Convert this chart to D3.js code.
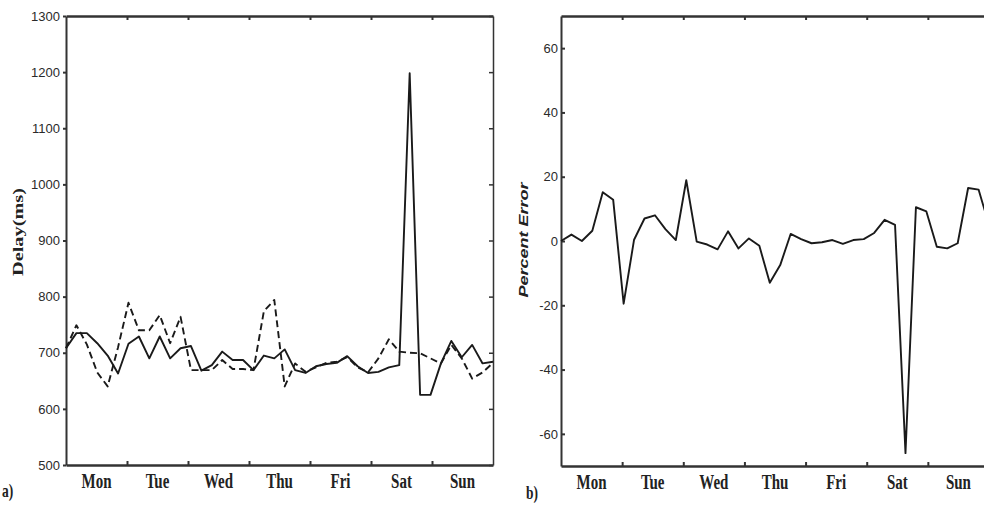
<!DOCTYPE html>
<html>
<head>
<meta charset="utf-8">
<script src="https://cdn.jsdelivr.net/npm/d3@7"></script>
<style>
  body { margin: 0; background: #fff; }
  svg { display: block; }
  .tick text { font-family: "Liberation Sans", Arial, sans-serif; font-size: 13px; fill: #2a2a2a; }
  .axis path, .axis line { stroke: #333; }
</style>
</head>
<body>
<svg width="984" height="506"></svg>
<script>
// days on the x axis
var days = ["Mon", "Tue", "Wed", "Thu", "Fri", "Sat", "Sun"];

// a) delay, solid = measured, dashed = predicted (ms)
var delayMeasured = [708, 735, 735, 717, 695, 663, 716, 729, 690, 729, 690, 708,
  712, 668, 678, 702, 687, 687, 669, 695, 690, 706, 669, 664, 676, 680, 682, 694,
  676, 664, 666, 674, 678, 1198, 625, 625, 681, 721, 692, 714, 681, 684];
var delayPredicted = [708, 749, 715, 665, 640, 710, 789, 740, 740, 767, 717, 764,
  669, 669, 669, 687, 671, 671, 669, 774, 794, 640, 681, 666, 674, 682, 684, 692,
  674, 665, 690, 724, 702, 700, 699, 690, 681, 714, 690, 654, 665, 682];

// b) percent error
var percentError = [0, 2, 0, 3.2, 15.2, 12.8, -19.5, 0.4, 7, 8, 3.7, 0.3, 18.9,
  -0.2, -1.1, -2.6, 3, -2.3, 0.8, -1.5, -13, -7.5, 2.2, 0.6, -0.7, -0.4, 0.3, -0.9,
  0.3, 0.6, 2.5, 6.6, 5, -66, 10.5, 9.2, -1.8, -2.3, -0.7, 16.5, 16, 5];

var delayTicks = [500, 600, 700, 800, 900, 1000, 1100, 1200, 1300];
var errorTicks = [-60, -40, -20, 0, 20, 40, 60];

var svg = d3.select("svg");

function panel(opts) {
  var x = d3.scaleLinear().domain([0, opts.n - 1]).range([opts.left, opts.right]);
  var xd = d3.scaleLinear().domain([0, days.length]).range([opts.left, opts.right]);
  var y = d3.scaleLinear().domain(opts.domain).range([opts.bottom, opts.top]);
  var g = svg.append("g");

  // frame: left, bottom, top, right
  g.append("g").attr("class", "axis")
      .attr("transform", "translate(" + opts.left + ",0)")
      .call(d3.axisLeft(y).tickValues(opts.ticks).tickSize(opts.yTick).tickSizeOuter(0).tickPadding(3)
        .tickFormat(function(d) { return String(d); }))
    .call(function(a) { a.selectAll("path, line").attr("stroke-width", 2); });

  g.append("g").attr("class", "axis")
      .attr("transform", "translate(0," + opts.bottom + ")")
      .call(d3.axisBottom(xd).tickValues(d3.range(1, days.length)).tickSize(-4).tickSizeOuter(0).tickFormat(""))
    .call(function(a) { a.selectAll("path").attr("stroke-width", 2.5); a.selectAll("line").attr("stroke-width", 2); });

  g.append("g").attr("class", "axis")
      .attr("transform", "translate(0," + opts.top + ")")
      .call(d3.axisTop(xd).tickValues(d3.range(1, days.length)).tickSize(-4).tickSizeOuter(0).tickFormat(""))
    .call(function(a) { a.selectAll("path").attr("stroke-width", 2.5); a.selectAll("line").attr("stroke-width", 2); });

  g.append("g").attr("class", "axis")
      .attr("transform", "translate(" + opts.right + ",0)")
      .call(d3.axisRight(y).tickValues(opts.ticks).tickSize(-4).tickSizeOuter(0).tickFormat(""))
    .call(function(a) { a.selectAll("path").attr("stroke-width", 1.5); a.selectAll("line").attr("stroke-width", 1.5); });

  // day labels
  g.selectAll(".day")
    .data(days)
    .enter().append("text")
      .attr("class", "day")
      .attr("transform", function(d, i) { return "translate(" + xd(i + 0.5) + "," + (opts.bottom + 23) + ") scale(0.75,1)"; })
      .attr("text-anchor", "middle")
      .attr("font-family", "'Liberation Serif', 'Times New Roman', serif")
      .attr("font-weight", "bold")
      .attr("font-size", 20)
      .attr("fill", "#222")
      .text(function(d) { return d; });

  var line = d3.line()
    .x(function(d, i) { return x(i); })
    .y(function(d) { return y(d); });

  opts.series.forEach(function(s) {
    g.append("path")
      .datum(s.values)
      .attr("fill", "none")
      .attr("stroke", "#1a1a1a")
      .attr("stroke-width", 1.9)
      .attr("stroke-linejoin", "round")
      .attr("stroke-dasharray", s.dash || null)
      .attr("d", line);
  });

  return g;
}

var a = panel({
  left: 66, right: 493, top: 16, bottom: 465,
  domain: [500, 1300], ticks: delayTicks, yTick: 3, n: delayMeasured.length,
  series: [{ values: delayPredicted, dash: "7,4" }, { values: delayMeasured }]
});

var b = panel({
  left: 561, right: 989, top: 16, bottom: 466,
  domain: [-70, 70], ticks: errorTicks, yTick: -4, n: percentError.length,
  series: [{ values: percentError }]
});

// axis titles
svg.append("text")
  .attr("transform", "translate(23,232) rotate(-90) scale(1.45,1)")
  .attr("text-anchor", "middle")
  .attr("font-family", "'Liberation Serif', 'Times New Roman', serif")
  .attr("font-weight", "bold")
  .attr("font-size", 14)
  .attr("fill", "#222")
  .text("Delay(ms)");

svg.append("text")
  .attr("transform", "translate(528,240) rotate(-90) scale(1.5,1)")
  .attr("text-anchor", "middle")
  .attr("font-family", "'Liberation Sans', Arial, sans-serif")
  .attr("font-weight", "bold")
  .attr("font-style", "italic")
  .attr("font-size", 12)
  .attr("fill", "#222")
  .text("Percent Error");

// panel letters
[["a)", 2, 497], ["b)", 526, 499]].forEach(function(p) {
  svg.append("text")
    .attr("transform", "translate(" + p[1] + "," + p[2] + ") scale(0.75,1)")
    .attr("font-family", "'Liberation Serif', 'Times New Roman', serif")
    .attr("font-weight", "bold")
    .attr("font-size", 18)
    .attr("fill", "#222")
    .text(p[0]);
});
</script>
</body>
</html>
